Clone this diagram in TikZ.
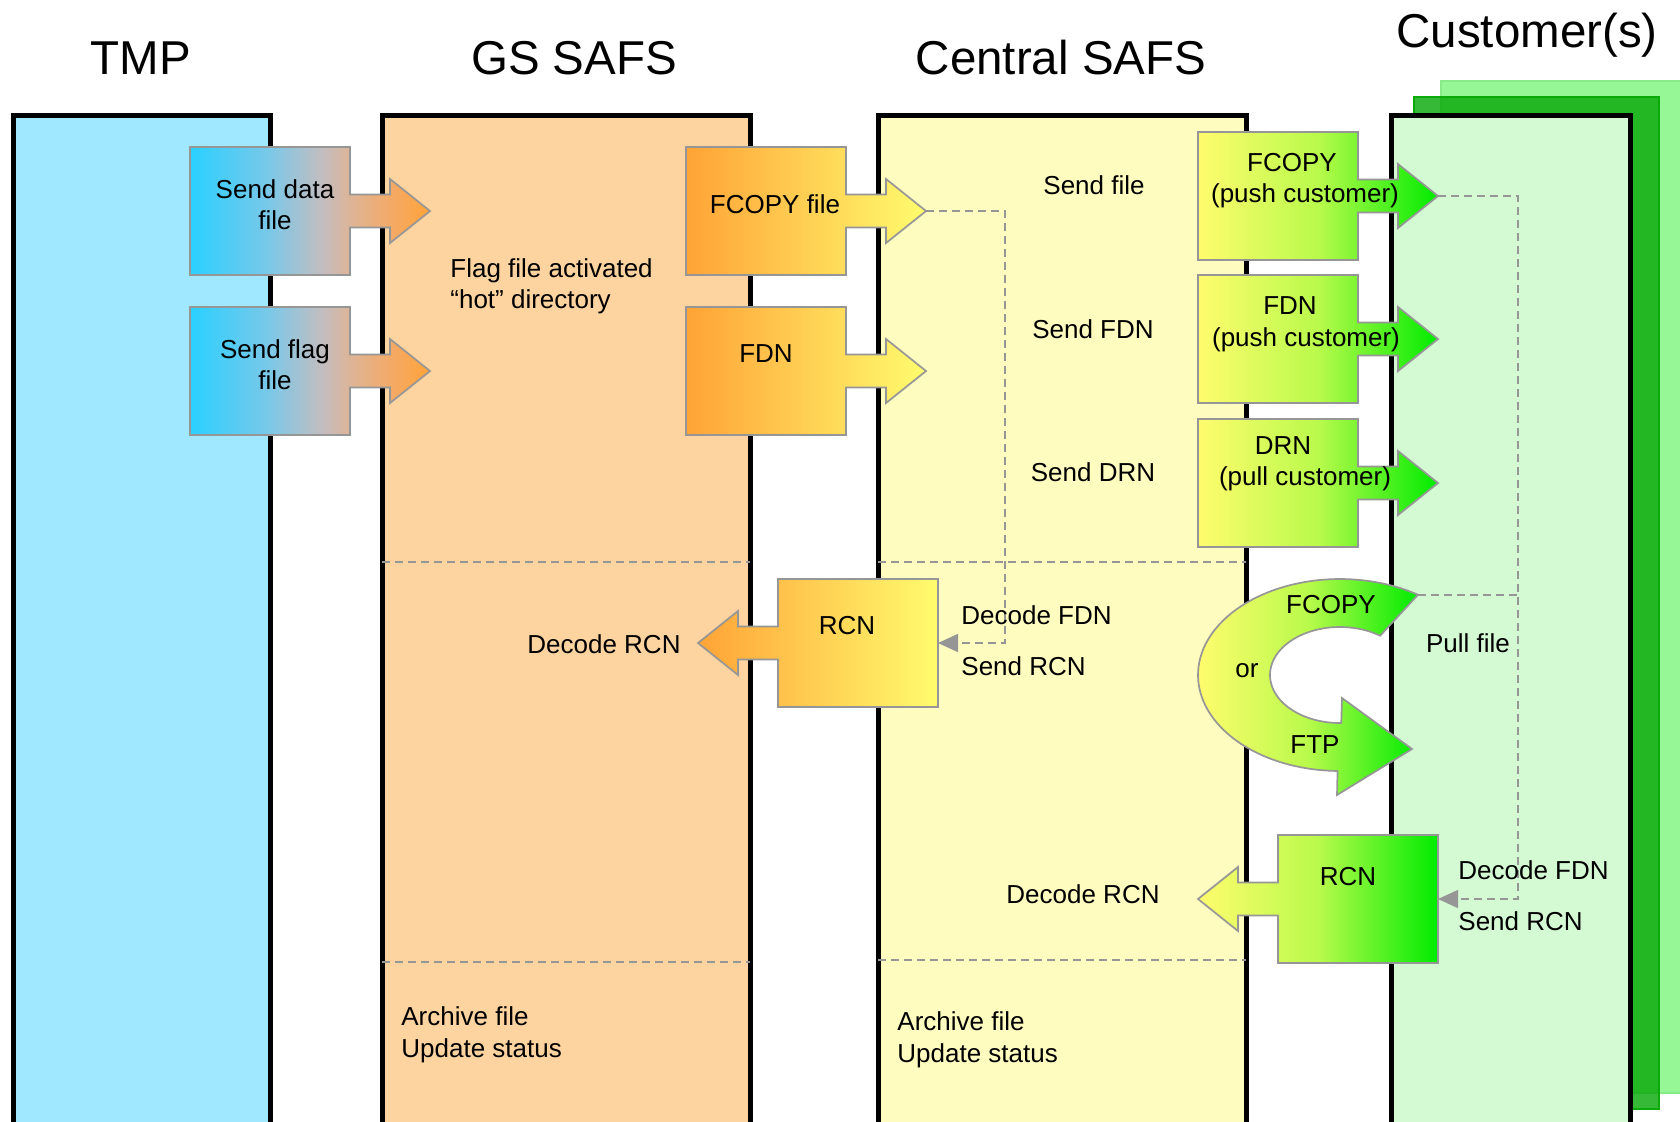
\documentclass[tikz,border=0pt]{standalone}
\usepackage{fontspec}
\setmainfont{Liberation Sans}
\usetikzlibrary{arrows.meta}

% lane fills
\definecolor{tmpfill}{RGB}{160,232,255}
\definecolor{gsfill}{RGB}{253,211,160}
\definecolor{cenfill}{RGB}{255,252,192}
\definecolor{cusfill}{RGB}{212,250,212}
\definecolor{backlight}{RGB}{150,247,150}
\definecolor{backlightedge}{RGB}{135,236,135}
\definecolor{backdark}{RGB}{10,170,10}
% shape colours
\definecolor{cyanA}{RGB}{42,208,255}
\definecolor{cyanB}{RGB}{122,200,232}
\definecolor{greyA}{RGB}{195,189,192}
\definecolor{tanA}{RGB}{222,180,150}
\definecolor{peachA}{RGB}{243,170,105}
\definecolor{orangeA}{RGB}{255,163,55}
\definecolor{yellowA}{RGB}{255,252,110}
\definecolor{limeA}{RGB}{185,250,75}
\definecolor{greenA}{RGB}{0,235,0}
\definecolor{edgegray}{RGB}{150,150,150}

% cyan-to-orange blend used by the TMP boxes (inner 25bp..75bp spans the shape)
\pgfdeclarehorizontalshading{tmpshade}{100bp}{color(0bp)=(cyanA); color(25bp)=(cyanA);
  color(41.5bp)=(cyanB); color(52.5bp)=(greyA); color(58.5bp)=(tanA);
  color(66.5bp)=(peachA); color(75bp)=(orangeA); color(100bp)=(orangeA)}

\newcommand{\bodysize}{\fontsize{13}{15.5}\selectfont}
\newcommand{\titlesize}{\fontsize{23.75}{28}\selectfont}

\tikzset{
  lanebox/.style={line width=2.5pt, line join=miter, draw=black},
  boxline/.style={draw=edgegray, line width=0.85pt, line join=miter},
  divider/.style={draw=edgegray, line width=0.75pt, dash pattern=on 4pt off 2.5pt},
  flow/.style={draw=edgegray, line width=0.75pt, dash pattern=on 4pt off 2.5pt},
  flowtip/.style={-{Triangle[length=10pt,width=9pt,fill=edgegray]}},
  tmpgrad/.style={shading=tmpshade},
  gsgrad/.style={left color=orangeA, right color=yellowA},
  cengrad/.style={left color=yellowA, right color=greenA, middle color=limeA},
  lbl/.style={font=\bodysize, inner sep=0pt, anchor=base},
  lbll/.style={font=\bodysize, inner sep=0pt, anchor=base west},
  title/.style={font=\titlesize, inner sep=0pt, anchor=base},
}

% box with an arrow leaving its right side: name, left x, top y, shading
\newcommand{\boxarrowright}[4]{%
  \shadedraw[boxline, #4] (#2,#3) -- ++(160,0) -- ++(0,47.5) -- ++(40,0)
    -- ++(0,-15.5) -- ++(40,32) -- ++(-40,32) -- ++(0,-15.5) -- ++(-40,0)
    -- ++(0,47.5) -- ++(-160,0) -- cycle;
  \coordinate (#1) at (#2+80,#3+64);
  \coordinate (#1-tip) at (#2+240,#3+64);
}
% box with an arrow leaving its left side: name, left x, top y, shading
\newcommand{\boxarrowleft}[4]{%
  \shadedraw[boxline, #4] (#2,#3) -- ++(160,0) -- ++(0,128) -- ++(-160,0)
    -- ++(0,-47.5) -- ++(-40,0) -- ++(0,15.5) -- ++(-40,-32) -- ++(40,-32)
    -- ++(0,15.5) -- ++(40,0) -- cycle;
  \coordinate (#1) at (#2+80,#3+64);
  \coordinate (#1-e) at (#2+160,#3+64);
  \coordinate (#1-tip) at (#2-80,#3+64);
}

\begin{document}
\begin{tikzpicture}[x=0.5pt, y=-0.5pt]
\useasboundingbox (0,0) rectangle (1680,1121);
\clip (0,0) rectangle (1680,1121);

% stacked sheets behind the customer lane
\draw[fill=backlight, draw=backlightedge, line width=1pt] (1441,81) rectangle (1700,1093);
\draw[fill=backdark, fill opacity=0.82, draw=backdark, line width=1pt] (1414,97) rectangle (1659,1109);

% swim lanes
\fill[tmpfill] (13,115) rectangle (270,1130);
\fill[gsfill]  (382,115) rectangle (750,1130);
\fill[cenfill] (878,115) rectangle (1246,1130);
\fill[cusfill] (1391,115) rectangle (1630,1130);
\draw[lanebox] (13,1130) -- (13,115) -- (270,115) -- (270,1130);
\draw[lanebox] (382,1130) -- (382,115) -- (750,115) -- (750,1130);
\draw[lanebox] (878,1130) -- (878,115) -- (1246,115) -- (1246,1130);
\draw[lanebox] (1391,1130) -- (1391,115) -- (1630,115) -- (1630,1130);

% lane titles
\node[title] (h-tmp) at (141,74) {TMP};
\node[title] (h-gs)  at (574,74) {GS SAFS};
\node[title] (h-cen) at (1061,74) {Central SAFS};
\node[title] (h-cus) at (1527,47) {Customer(s)};

% phase separators
\draw[divider] (382,562) -- (750,562);
\draw[divider] (878,562) -- (1246,562);
\draw[divider] (382,962) -- (750,962);
\draw[divider] (878,960) -- (1246,960);

% TMP -> GS SAFS
\boxarrowright{senddata}{190}{147}{tmpgrad}
\boxarrowright{sendflag}{190}{307}{tmpgrad}
% GS SAFS -> Central SAFS
\boxarrowright{fcopyfile}{686}{147}{gsgrad}
\boxarrowright{gsfdn}{686}{307}{gsgrad}
% Central SAFS -> customer
\boxarrowright{pushfcopy}{1198}{132}{cengrad}
\boxarrowright{pushfdn}{1198}{275}{cengrad}
\boxarrowright{pulldrn}{1198}{419}{cengrad}
% receipts coming back
\boxarrowleft{rcngs}{778}{579}{gsgrad}
\boxarrowleft{rcncus}{1278}{835}{cengrad}

% curved pull arrow (FCOPY or FTP)
\shadedraw[boxline, cengrad]
  plot[domain=56.7:269, samples=80] ({1340+142*cos(\x)},{675-96*sin(\x)})
  -- (1337,795) -- (1412,749) -- (1342,698)
  -- plot[domain=55:271, samples=80] ({1340+70*cos(326-\x)},{675-48*sin(326-\x)})
  -- cycle;
\coordinate (pullcurve-tip) at (1418,595);

% dashed hand-offs
\coordinate (gsturn) at (1005,643);
\coordinate (custurn) at (1518,899);
\coordinate (cusjoin) at (1518,595);
\draw[flow, flowtip] (fcopyfile-tip) -| (gsturn) -- (rcngs-e);
\draw[flow, flowtip] (pushfcopy-tip) -| (custurn) -- (rcncus-e);
\draw[flow] (pullcurve-tip) -- (cusjoin);

% texts on shapes
\node[lbl] (l-senddata1) at (275,198) {Send data};
\node[lbl] (l-senddata2) at (275,229) {file};
\node[lbl] (l-sendflag1) at (275,358) {Send flag};
\node[lbl] (l-sendflag2) at (275,389) {file};
\node[lbl] (l-fcopyfile) at (775,213) {FCOPY file};
\node[lbl] (l-gsfdn) at (766,362) {FDN};
\node[lbl] (l-pushfcopy1) at (1292,171) {FCOPY};
\node[lbl] (l-pushfcopy2) at (1305,202) {(push customer)};
\node[lbl] (l-pushfdn1) at (1290,314) {FDN};
\node[lbl] (l-pushfdn2) at (1306,346) {(push customer)};
\node[lbl] (l-pulldrn1) at (1283,454) {DRN};
\node[lbl] (l-pulldrn2) at (1305,485) {(pull customer)};
\node[lbl] (l-rcngs) at (847,634) {RCN};
\node[lbl] (l-rcncus) at (1348,885) {RCN};
\node[lbl] (l-curvefcopy) at (1331,613) {FCOPY};
\node[lbl] (l-curveor) at (1247,677) {or};
\node[lbl] (l-curveftp) at (1315,753) {FTP};

% lane notes
\node[lbll] (n-flag1) at (450,277) {Flag file activated};
\node[lbll] (n-flag2) at (450,308) {“hot” directory};
\node[lbl] (n-sendfile) at (1094,194) {Send file};
\node[lbl] (n-sendfdn) at (1093,338) {Send FDN};
\node[lbl] (n-senddrn) at (1093,481) {Send DRN};
\node[lbl] (n-gsdecode) at (604,653) {Decode RCN};
\node[lbll] (n-cendecode1) at (961,624) {Decode FDN};
\node[lbll] (n-cendecode2) at (961,675) {Send RCN};
\node[lbl] (n-pull) at (1468,652) {Pull file};
\node[lbl] (n-cendecodercn) at (1083,903) {Decode RCN};
\node[lbll] (n-cusdecode1) at (1458,879) {Decode FDN};
\node[lbll] (n-cusdecode2) at (1458,930) {Send RCN};
\node[lbll] (n-gsarch1) at (401,1025) {Archive file};
\node[lbll] (n-gsarch2) at (401,1057) {Update status};
\node[lbll] (n-cenarch1) at (897,1030) {Archive file};
\node[lbll] (n-cenarch2) at (897,1062) {Update status};
\end{tikzpicture}
\end{document}
